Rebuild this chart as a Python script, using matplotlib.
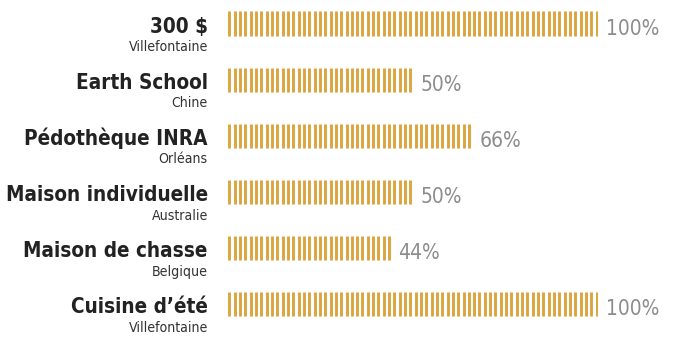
import numpy as np
import matplotlib
matplotlib.use("Agg")
import matplotlib.pyplot as plt

# Projects and their share
titles = ["300 $", "Earth School", "Pédothèque INRA", "Maison individuelle",
          "Maison de chasse", "Cuisine d’été"]
places = ["Villefontaine", "Chine", "Orléans", "Australie", "Belgique", "Villefontaine"]
shares = [100, 50, 66, 50, 44, 100]

GOLD = "#DBA53F"
plt.rcParams["font.family"] = ["DejaVu Sans"]
plt.rcParams["font.stretch"] = "condensed"

fig = plt.figure(figsize=(6.8, 3.38), dpi=100)
ax = fig.add_axes([228 / 680, 0, 370 / 680, 1])
ax.set_xlim(0, 100)
ax.set_ylim(5.606, -0.419)
ax.axis("off")

# bars are drawn as rows of thin vertical stripes
half = 0.4
step = (100 - 2 * half) / 69
for i, v in enumerate(shares):
    xs = np.arange(half, v - half + 1e-6, step)
    ax.vlines(xs, i - 0.215, i + 0.215, color=GOLD, linewidth=2.1)

    ax.annotate(titles[i], (0, i), xytext=(-14.5, -6.8), textcoords="offset points",
                ha="right", va="baseline", fontsize=14.9, fontweight="bold",
                color="#222222")
    ax.annotate(places[i], (0, i), xytext=(-14.5, -20.0), textcoords="offset points",
                ha="right", va="baseline", fontsize=10.1, color="#333333")
    ax.annotate(f"{v}%", (v, i), xytext=(5.5, -8.2), textcoords="offset points",
                ha="left", va="baseline", fontsize=15, color="#8c8c8c")

fig.savefig("out.png", dpi=100)
